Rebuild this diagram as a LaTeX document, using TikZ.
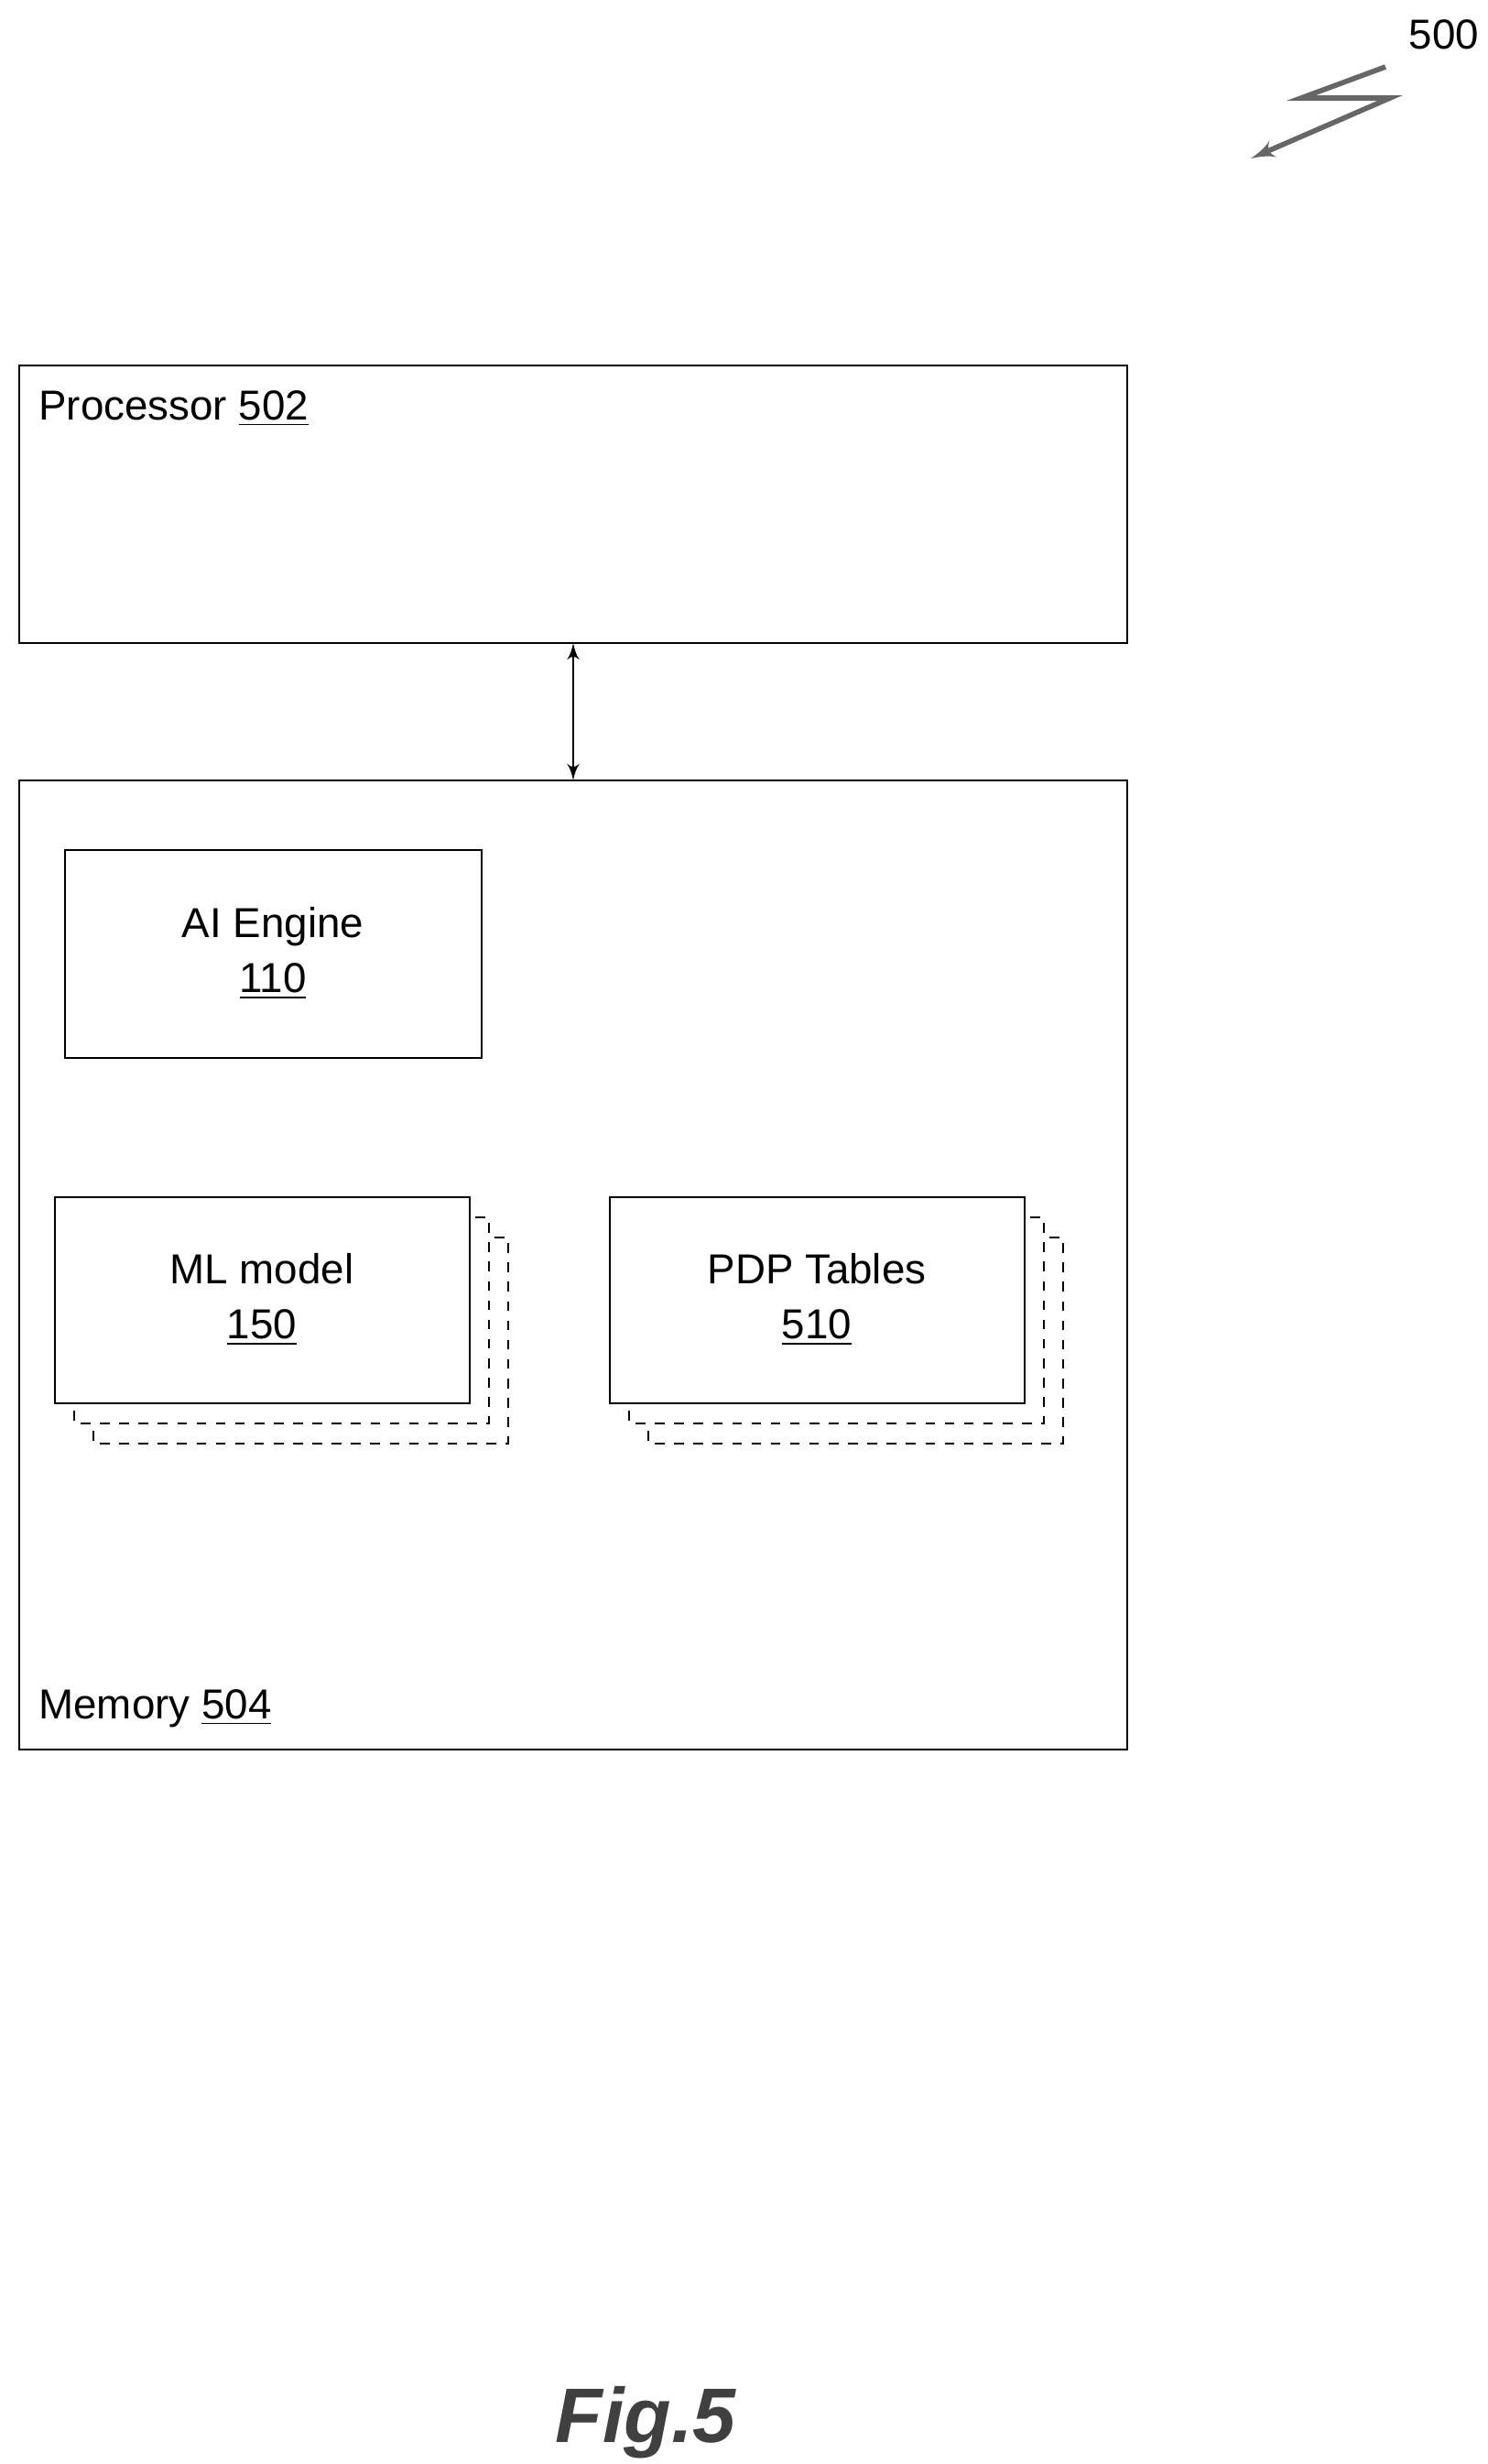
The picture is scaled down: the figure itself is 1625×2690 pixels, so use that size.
\documentclass[tikz,border=0pt]{standalone}
\usepackage{fontspec}
\setmainfont{Liberation Sans}
\usetikzlibrary{arrows}
\begin{document}
\begin{tikzpicture}[x=0.01cm,y=-0.01cm]
\tikzset{block/.style = {draw,line width=0.8pt,fill=white,inner sep=0pt}}
\tikzset{stack/.style = {draw,dashed,line width=0.8pt,fill=white}}
\tikzset{lbl/.style = {font=\fontsize{13}{17}\selectfont,align=center}}
\tikzset{edge/.style = {<->,> = latex'}}
\useasboundingbox (0,0) rectangle (1625,2690);
% boxes
\draw[block] (21,399) rectangle (1231,702);
\node[lbl,anchor=west] (proc) at (30,446) {Processor \underline{502}};
\draw[block] (21,852) rectangle (1231,1910);
\node[lbl,anchor=west] (mem) at (30,1865) {Memory \underline{504}};
\coordinate (ptop) at (626,702);
\coordinate (mtop) at (626,852);
\draw[edge,line width=0.8pt] (ptop) -- (mtop);
% ai engine
\draw[block] (71,928) rectangle (526,1155);
\node[lbl] (ai) at (298,1041) {AI Engine\\\underline{110}};
% stacks
\foreach \x/\name/\num in {60/ML model/150, 666/PDP Tables/510}{
  \draw[stack] (\x+42,1351) rectangle ++(453,225);
  \draw[stack] (\x+21,1329) rectangle ++(453,225);
  \draw[block] (\x,1307) rectangle ++(453,225);
  \node[lbl] at (\x+226,1419) {\name\\\underline{\num}};
}
% figure number
\node[font=\bfseries\itshape\fontsize{24}{28}\selectfont,
  text=black!75] (fig) at (705,2645) {Fig.5};
\node[lbl,anchor=center] (ref) at (1577,38) {500};
\coordinate (z1) at (1513,73);
\coordinate (z2) at (1421,107);
\coordinate (z3) at (1518,107);
\coordinate (z4) at (1366,173);
\draw[->,>=latex',line width=1.6pt,black!60] (z1) -- (z2) -- (z3) -- (z4);
\end{tikzpicture}
\end{document}
